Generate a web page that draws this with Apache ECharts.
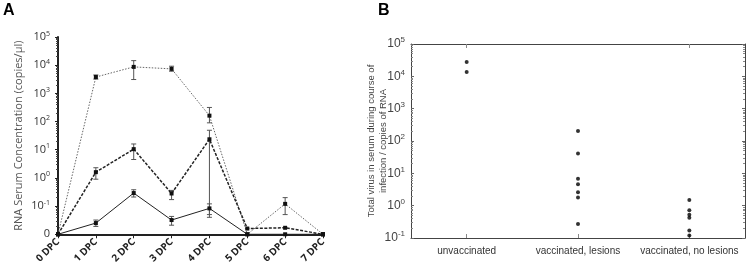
<!DOCTYPE html>
<html><head><meta charset="utf-8">
<script src="https://cdn.jsdelivr.net/npm/echarts@6/dist/echarts.min.js"></script>
<style>html,body{margin:0;padding:0;background:#fff}#c{width:749px;height:266px}</style>
</head><body><div id="c"></div>
<script>
// ---- Panel A data ----
const categoriesA = ['0 DPC','1 DPC','2 DPC','3 DPC','4 DPC','5 DPC','6 DPC','7 DPC'];
const ZERO_A = 0.01; // axis floor labelled "0"
const dottedVals = [0, 3800, 8700, 7400, 162, 0, 0.12, 0];
const dottedLo   = [null, 3200, 3100, 6100, 90, null, 0.05, null];
const dottedHi   = [null, 4500, 14500, 9200, 316, null, 0.2, null];
const dashedVals = [0, 1.6, 10.5, 0.28, 23.5, 0.016, 0.017, 0];
const dashedLo   = [null, 0.9, 4.5, 0.17, 0.04, null, null, null];
const dashedHi   = [null, 2.3, 16, 0.36, 49, null, null, null];
const solidVals  = [0, 0.025, 0.29, 0.032, 0.083, 0, 0, 0];
const solidLo    = [null, 0.019, 0.21, 0.021, 0.05, null, null, null];
const solidHi    = [null, 0.032, 0.38, 0.043, 0.12, null, null, null];

// ---- Panel B data ----
const groupsB = ['unvaccinated', 'vaccinated, lesions', 'vaccinated, no lesions'];
const unvaccinated = [27700, 13600];
const vaccLesions = [204, 41, 6.8, 4.6, 2.6, 1.8, 0.27];
const vaccNoLesions = [1.5, 0.72, 0.52, 0.42, 0.17, 0.12];

const fix = v => (v ? v : ZERO_A);
function errData(lo, hi) {
  const out = [];
  lo.forEach((l, i) => { if (l != null) out.push([i, l, hi[i]]); });
  return out;
}
function supLabel(v, zeroLabel) {
  const e = Math.round(Math.log10(v));
  if (zeroLabel && Math.abs(v - ZERO_A) < 1e-9) return '0';
  return '10{s|' + e + '}';
}
function errRender(params, api) {
  const x = api.value(0);
  const p1 = api.coord([x, api.value(1)]);
  const p2 = api.coord([x, api.value(2)]);
  const cap = 2.5;
  const st = { stroke: '#555', lineWidth: 1 };
  return { type: 'group', children: [
    { type: 'line', shape: { x1: p1[0], y1: p1[1], x2: p2[0], y2: p2[1] }, style: st },
    { type: 'line', shape: { x1: p1[0]-cap, y1: p1[1], x2: p1[0]+cap, y2: p1[1] }, style: st },
    { type: 'line', shape: { x1: p2[0]-cap, y1: p2[1], x2: p2[0]+cap, y2: p2[1] }, style: st }
  ]};
}

const chart = echarts.init(document.getElementById('c'), null, { renderer: 'canvas' });
const fontA = 'Open Sans';
const fontB = 'Liberation Sans';
const richA = { s: { fontSize: 7, verticalAlign: 'top', padding: [0,0,7,0], fontFamily: fontA, color: '#333' } };
const richB = { s: { fontSize: 8, verticalAlign: 'top', padding: [0,0,8,0], fontFamily: fontB, color: '#444' } };

chart.setOption({
  animation: false,
  graphic: [
    { type: 'text', left: 3, top: 3, style: { text: 'A', font: 'bold 16px Liberation Sans', fill: '#000' } },
    { type: 'text', left: 378, top: 3, style: { text: 'B', font: 'bold 16px Liberation Sans', fill: '#000' } }
  ],
  grid: [
    { left: 58, top: 37, width: 265, height: 200 },
    { left: 411, top: 44, width: 334, height: 194 }
  ],
  xAxis: [
    { gridIndex: 0, type: 'category', data: categoriesA, boundaryGap: false,
      axisLine: { lineStyle: { color: '#222', width: 2 } },
      axisTick: { show: true, length: 4, lineStyle: { color: '#222' } },
      axisLabel: { rotate: 45, interval: 0, fontFamily: fontA, fontWeight: 'bold', fontSize: 10, color: '#222', margin: 6 } },
    { gridIndex: 1, type: 'category', data: groupsB, boundaryGap: true,
      axisLine: { lineStyle: { color: '#444', width: 1 } },
      axisTick: { show: true, inside: true, alignWithLabel: true, length: 4, lineStyle: { color: '#888' } },
      axisLabel: { interval: 0, hideOverlap: false, fontFamily: fontB, fontSize: 10, color: '#333', margin: 8 } },
    { gridIndex: 1, type: 'category', data: groupsB, boundaryGap: true, position: 'top',
      axisLine: { lineStyle: { color: '#444', width: 1 } },
      axisTick: { show: true, inside: true, alignWithLabel: true, length: 4, lineStyle: { color: '#888' } },
      axisLabel: { show: false } }
  ],
  yAxis: [
    { gridIndex: 0, type: 'log', logBase: 10, min: 0.01, max: 100000, splitNumber: 7,
      name: 'RNA Serum Concentration (copies/µl)', nameLocation: 'middle', nameGap: 34,
      nameTextStyle: { fontFamily: fontA, fontSize: 11, color: '#555' },
      axisLine: { show: true, lineStyle: { color: '#222', width: 2 } },
      axisTick: { show: true, length: 3, lineStyle: { color: '#222' } },
      minorTick: { show: true, splitNumber: 9, length: 2, lineStyle: { color: '#444' } },
      splitLine: { show: false },
      axisLabel: { fontFamily: fontA, fontSize: 11, color: '#333', margin: 8,
        formatter: v => supLabel(v, true), rich: richA } },
    { gridIndex: 1, type: 'log', logBase: 10, min: 0.1, max: 100000, splitNumber: 6,
      name: 'Total virus in serum during course of\ninfection / copies of RNA', nameLocation: 'middle', nameGap: 22,
      nameMoveOverlap: false,
      nameTextStyle: { fontFamily: fontB, fontSize: 9.5, color: '#444', lineHeight: 12 },
      axisLine: { show: true, lineStyle: { color: '#444', width: 1 } },
      axisTick: { show: true, inside: true, length: 3, lineStyle: { color: '#666' } },
      minorTick: { show: true, splitNumber: 9, length: 2, lineStyle: { color: '#888' } },
      splitLine: { show: false },
      axisLabel: { fontFamily: fontB, fontSize: 12, color: '#444', margin: 6,
        formatter: v => supLabel(v, false), rich: richB } },
    { gridIndex: 1, type: 'log', logBase: 10, min: 0.1, max: 100000, splitNumber: 6, position: 'right',
      axisLine: { show: true, lineStyle: { color: '#444', width: 1 } },
      axisTick: { show: true, inside: true, length: 3, lineStyle: { color: '#666' } },
      minorTick: { show: true, splitNumber: 9, length: 2, lineStyle: { color: '#888' } },
      splitLine: { show: false }, axisLabel: { show: false } }
  ],
  series: [
    { type: 'custom', xAxisIndex: 0, yAxisIndex: 0, renderItem: errRender, data: errData(dottedLo, dottedHi), z: 1 },
    { type: 'custom', xAxisIndex: 0, yAxisIndex: 0, renderItem: errRender, data: errData(dashedLo, dashedHi), z: 1 },
    { type: 'custom', xAxisIndex: 0, yAxisIndex: 0, renderItem: errRender, data: errData(solidLo, solidHi), z: 1 },
    { type: 'line', xAxisIndex: 0, yAxisIndex: 0, data: dottedVals.map(fix), symbol: 'rect', symbolSize: 4,
      itemStyle: { color: '#111' }, lineStyle: { color: '#666', width: 1, type: [1.5, 1.5] }, z: 3 },
    { type: 'line', xAxisIndex: 0, yAxisIndex: 0, data: dashedVals.map(fix), symbol: 'rect', symbolSize: 4,
      itemStyle: { color: '#111' }, lineStyle: { color: '#222', width: 1.5, type: [3, 1.5] }, z: 3 },
    { type: 'line', xAxisIndex: 0, yAxisIndex: 0, data: solidVals.map(fix), symbol: 'rect', symbolSize: 4,
      itemStyle: { color: '#111' }, lineStyle: { color: '#222', width: 1 }, z: 3 },
    { type: 'scatter', xAxisIndex: 1, yAxisIndex: 1, symbol: 'circle', symbolSize: 4, itemStyle: { color: '#000' },
      data: [].concat(
        unvaccinated.map(v => [0, v]),
        vaccLesions.map(v => [1, v]),
        vaccNoLesions.map(v => [2, v])) }
  ]
});
</script></body></html>
